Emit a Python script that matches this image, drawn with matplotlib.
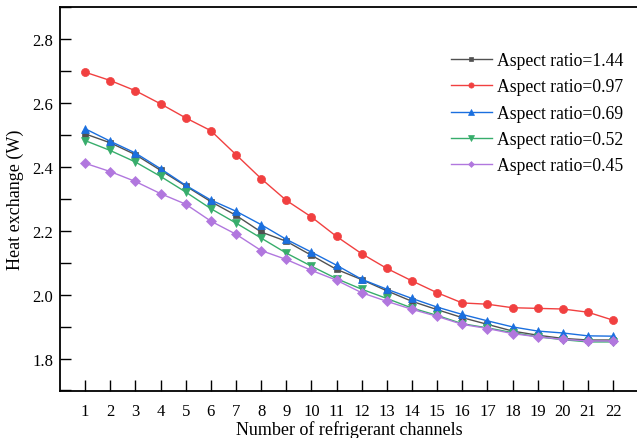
import matplotlib
matplotlib.use("Agg")
import matplotlib.pyplot as plt
from matplotlib.ticker import MultipleLocator, FuncFormatter

channels = list(range(1, 23))
ar_144 = [2.503, 2.475, 2.438, 2.389, 2.340, 2.291, 2.248, 2.196, 2.167, 2.123, 2.079, 2.047,
          2.012, 1.979, 1.953, 1.928, 1.907, 1.886, 1.873, 1.863, 1.858, 1.858]
ar_097 = [2.696, 2.670, 2.638, 2.597, 2.553, 2.513, 2.438, 2.363, 2.295, 2.243, 2.182, 2.128,
          2.082, 2.043, 2.006, 1.974, 1.970, 1.959, 1.957, 1.955, 1.945, 1.920]
ar_069 = [2.519, 2.480, 2.443, 2.394, 2.342, 2.296, 2.261, 2.219, 2.173, 2.133, 2.092, 2.048,
          2.017, 1.988, 1.961, 1.938, 1.918, 1.899, 1.886, 1.880, 1.871, 1.870]
ar_052 = [2.482, 2.451, 2.415, 2.370, 2.321, 2.269, 2.224, 2.177, 2.130, 2.089, 2.050, 2.017,
          1.988, 1.958, 1.935, 1.909, 1.896, 1.881, 1.868, 1.859, 1.852, 1.852]
ar_045 = [2.411, 2.385, 2.354, 2.316, 2.283, 2.230, 2.189, 2.138, 2.110, 2.076, 2.045, 2.006,
          1.979, 1.954, 1.932, 1.907, 1.894, 1.878, 1.868, 1.860, 1.855, 1.855]
labels = ["Aspect ratio=1.44", "Aspect ratio=0.97", "Aspect ratio=0.69",
          "Aspect ratio=0.52", "Aspect ratio=0.45"]
series = [ar_144, ar_097, ar_069, ar_052, ar_045]
colors = ["#515151", "#F14040", "#1A6FDF", "#37AD6B", "#B177DE"]
markers = ["s", "o", "^", "v", "D"]
msizes = [5, 5.8, 6, 6, 4.6]

plt.rcParams['font.family'] = ['Liberation Serif', 'DejaVu Serif']

fig = plt.figure(figsize=(6.37, 4.39), dpi=100)
W, H = 637, 439
axw = 23 * 25.14
axh = 391.5 - 8
ax = fig.add_axes([60 / W, 1 - 391.5 / H, axw / W, axh / H])

for y, lab, c, m, ms in zip(series, labels, colors, markers, msizes):
    ax.plot(channels, y, color=c, marker=m, markersize=ms, linewidth=1.0,
            markeredgecolor=c, markeredgewidth=0.5, label=lab)

ax.set_xlim(0, 23)
ax.set_ylim(1.7, 2.9)
ax.set_xticks(channels)
ax.set_xticklabels([str(c) for c in channels])
ax.yaxis.set_major_locator(MultipleLocator(0.1))
ax.yaxis.set_major_formatter(FuncFormatter(
    lambda v, p: f"{v:.1f}" if round(v * 10) % 2 == 0 else ""))
ax.tick_params(direction='in', length=8, width=1.0, labelsize=12, colors='black')
ax.tick_params(axis='x', pad=9)
ax.tick_params(axis='y', pad=5)
for s in ax.spines.values():
    s.set_linewidth(1.3)

ax.set_xlabel("Number of refrigerant channels", fontsize=13, labelpad=1)
ax.set_ylabel("Heat exchange (W)", fontsize=13, labelpad=6)

leg = ax.legend(loc='upper left', bbox_to_anchor=((451 - 60) / axw, 1 - (53 - 8) / axh),
                frameon=False, fontsize=12.7, markerscale=0.65, handlelength=2.3,
                handletextpad=0.3, labelspacing=0.53, borderaxespad=0, borderpad=0)

fig.savefig("out.png", dpi=100)
